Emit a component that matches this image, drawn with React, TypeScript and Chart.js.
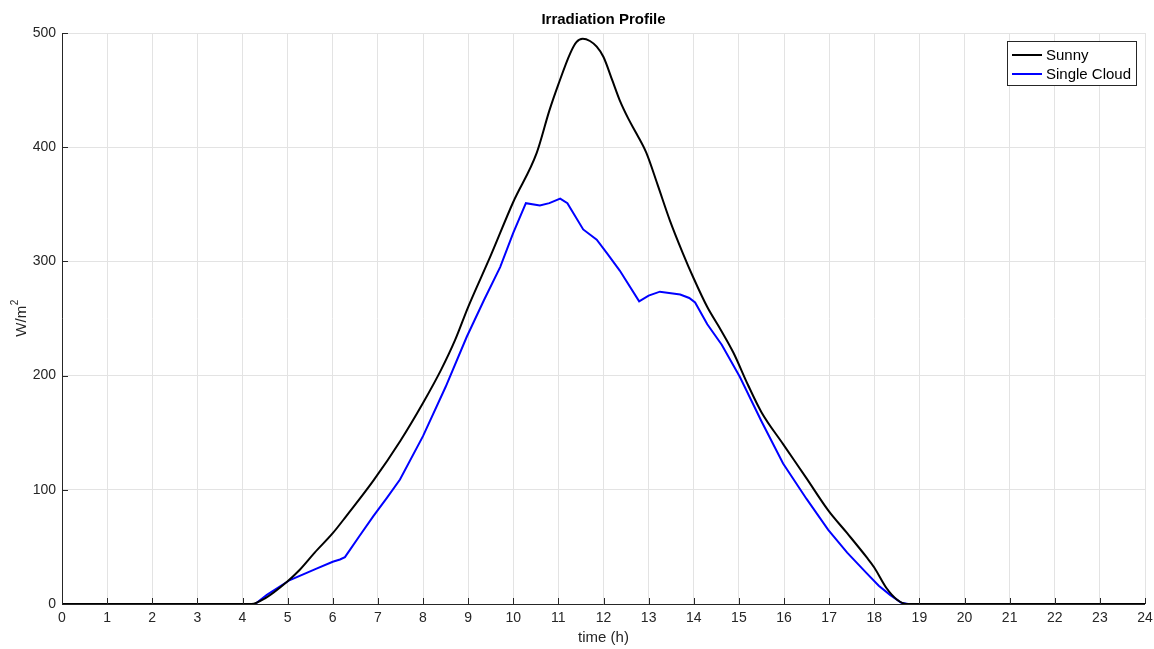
import React, { useEffect, useRef } from 'react';
import { Chart, registerables } from 'chart.js';
Chart.register(...registerables);

const chartTitle = 'Irradiation Profile';
const xAxisTitle = 'time (h)';
const yAxisTitleBase = 'W/m';
const yAxisTitleSup = '2';
const seriesNames = ['Sunny', 'Single Cloud'];
const xTickValues = [0, 1, 2, 3, 4, 5, 6, 7, 8, 9, 10, 11, 12, 13, 14, 15, 16, 17, 18, 19, 20, 21, 22, 23, 24];
const yTickValues = [0, 100, 200, 300, 400, 500];

const sunnyTime = [0, 4.2, 4.5, 5, 5.27, 5.6, 6, 6.3, 6.9, 7.5, 8, 8.4, 8.71, 9, 9.5, 10, 10.52, 10.8, 11, 11.26, 11.4, 11.54, 11.7, 11.85, 12, 12.2, 12.36, 12.55, 12.73, 12.95, 13.2, 13.47, 13.75, 14, 14.3, 14.6, 14.88, 15.2, 15.5, 15.98, 16.5, 16.98, 17.4, 17.83, 18, 18.27, 18.5, 18.72, 24];
const sunnyValue = [0, 0, 5, 20, 30, 45, 62, 77, 108, 143, 176, 205, 231, 260, 305, 352, 395, 432, 455, 482, 492, 495, 493, 488, 479, 458, 441, 425, 412, 395, 367, 336, 308, 285, 260, 240, 220, 192, 168, 140, 110, 82, 62, 41, 32, 14, 4, 0, 0];

const cloudTime = [0, 4.28, 4.54, 5.05, 5.64, 6.0, 6.16, 6.27, 6.6, 6.9, 7.2, 7.49, 8, 8.5, 8.97, 9.35, 9.71, 10.0, 10.28, 10.59, 10.8, 11.04, 11.2, 11.29, 11.55, 11.85, 12.1, 12.36, 12.79, 13.0, 13.25, 13.7, 13.9, 14.03, 14.3, 14.62, 15.02, 15.5, 15.98, 16.5, 16.98, 17.4, 17.83, 18.1, 18.35, 18.6, 18.75, 24];
const cloudValue = [0, 0, 8, 21, 31, 37, 39, 41, 60, 77, 93, 109, 147, 190, 234, 266, 295, 325, 351, 349, 351, 355, 351, 345, 328, 319, 306, 292, 265, 270, 273.5, 271, 268, 264, 245, 227, 199, 160, 123, 92, 65, 45, 27, 16, 8, 1, 0, 0];

const FONT = '"Liberation Sans", Arial, Helvetica, sans-serif';
const TEXT = '#262626';

const decorPlugin = {
  id: 'matlabDecor',
  afterDraw(chart: any) {
    const { ctx, chartArea, scales } = chart;
    const xs = scales.x;
    const ys = scales.y;
    ctx.save();
    ctx.strokeStyle = TEXT;
    ctx.lineWidth = 1;
    ctx.beginPath();
    ctx.moveTo(chartArea.left + 0.5, chartArea.top);
    ctx.lineTo(chartArea.left + 0.5, chartArea.bottom + 0.5);
    ctx.lineTo(chartArea.right, chartArea.bottom + 0.5);
    ctx.stroke();
    ctx.beginPath();
    xTickValues.forEach((v) => {
      const px = Math.round(xs.getPixelForValue(v)) + 0.5;
      ctx.moveTo(px, chartArea.bottom);
      ctx.lineTo(px, chartArea.bottom - 6);
    });
    yTickValues.forEach((v) => {
      const py = Math.round(ys.getPixelForValue(v)) + 0.5;
      ctx.moveTo(chartArea.left, py);
      ctx.lineTo(chartArea.left + 6, py);
    });
    ctx.stroke();
    ctx.fillStyle = '#000';
    ctx.font = `bold 15px ${FONT}`;
    ctx.textAlign = 'center';
    ctx.textBaseline = 'middle';
    ctx.fillText(chartTitle, (chartArea.left + chartArea.right) / 2, 20);
    ctx.fillStyle = TEXT;
    ctx.font = `15px ${FONT}`;
    ctx.fillText(xAxisTitle, (chartArea.left + chartArea.right) / 2, 638);
    // y title with superscript
    ctx.save();
    ctx.translate(22, (chartArea.top + chartArea.bottom) / 2);
    ctx.rotate(-Math.PI / 2);
    ctx.font = `15px ${FONT}`;
    const wBase = ctx.measureText(yAxisTitleBase).width;
    ctx.font = `10px ${FONT}`;
    const wSup = ctx.measureText(yAxisTitleSup).width;
    const start = -(wBase + wSup) / 2;
    ctx.textAlign = 'left';
    ctx.font = `15px ${FONT}`;
    ctx.fillText(yAxisTitleBase, start, 0);
    ctx.font = `10px ${FONT}`;
    ctx.fillText(yAxisTitleSup, start + wBase + 0.5, -7);
    ctx.restore();
    // legend
    const bx = 1007.5, by = 41.5, bw = 129, bh = 44;
    ctx.fillStyle = '#fff';
    ctx.fillRect(bx, by, bw, bh);
    ctx.strokeStyle = '#262626';
    ctx.lineWidth = 1;
    ctx.strokeRect(bx, by, bw, bh);
    ctx.font = `15px ${FONT}`;
    ctx.textAlign = 'left';
    chart.data.datasets.forEach((ds: any, i: number) => {
      const cy = 55 + i * 19;
      ctx.strokeStyle = ds.borderColor;
      ctx.lineWidth = 2;
      ctx.beginPath();
      ctx.moveTo(1012, cy);
      ctx.lineTo(1042, cy);
      ctx.stroke();
      ctx.fillStyle = '#000';
      ctx.fillText(ds.label, 1046, cy + 1);
    });
    ctx.restore();
  },
};

export default function App() {
  const ref = useRef<HTMLCanvasElement | null>(null);
  useEffect(() => {
    document.body.style.margin = '0';
    const canvas = ref.current!;
    const chart = new Chart(canvas, {
      type: 'scatter',
      data: {
        datasets: [
          {
            label: seriesNames[0],
            data: sunnyTime.map((t, i) => ({ x: t, y: sunnyValue[i] })),
            borderColor: '#000000',
            backgroundColor: '#000000',
            showLine: true,
            pointRadius: 0,
            borderWidth: 2,
            cubicInterpolationMode: 'monotone',
          },
          {
            label: seriesNames[1],
            data: cloudTime.map((t, i) => ({ x: t, y: cloudValue[i] })),
            borderColor: '#0000ff',
            backgroundColor: '#0000ff',
            showLine: true,
            pointRadius: 0,
            borderWidth: 2,
            tension: 0,
          },
        ],
      },
      options: {
        animation: false,
        responsive: false,
        maintainAspectRatio: false,
        layout: { padding: { top: 33, right: 9, left: 0, bottom: 0 } },
        plugins: { legend: { display: false }, title: { display: false }, tooltip: { enabled: false } },
        scales: {
          x: {
            type: 'linear',
            min: 0,
            max: 24,
            afterBuildTicks: (s: any) => { s.ticks = xTickValues.map((v) => ({ value: v })); },
            afterFit: (s: any) => { s.height = 45; s.paddingLeft = 0; s.paddingRight = 0; },
            ticks: { color: TEXT, font: { family: FONT, size: 14 }, padding: 6, maxRotation: 0, autoSkip: false },
            grid: { color: '#e3e3e3', drawTicks: false },
            border: { display: false },
          },
          y: {
            type: 'linear',
            min: 0,
            max: 500,
            afterBuildTicks: (s: any) => { s.ticks = yTickValues.map((v) => ({ value: v })); },
            afterFit: (s: any) => { s.width = 62; s.paddingTop = 0; s.paddingBottom = 0; },
            ticks: { color: TEXT, font: { family: FONT, size: 14 }, padding: 6 },
            grid: { color: '#e3e3e3', drawTicks: false },
            border: { display: false },
          },
        },
      },
      plugins: [decorPlugin],
    });
    return () => chart.destroy();
  }, []);
  return (
    <div style={{ width: 1154, height: 649, background: '#fff' }}>
      <canvas ref={ref} width={1154} height={649} style={{ display: 'block' }} />
    </div>
  );
}
